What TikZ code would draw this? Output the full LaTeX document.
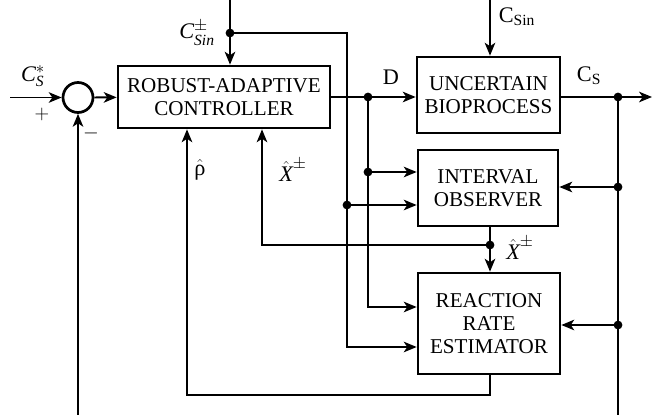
\documentclass[tikz,border=0pt]{standalone}
\usepackage{amsmath}
\usepackage{fontspec}
\setmainfont{Liberation Serif}
\usetikzlibrary{arrows.meta, positioning, calc}
\newcommand{\itx}[1]{\text{\itshape #1}}

\begin{document}
\begin{tikzpicture}[
  x=0.3mm, y=-0.3mm,
  >={Stealth[length=11pt, width=9pt, inset=3pt]},
  box/.style={draw, line width=2.3pt, minimum width=#1, align=center,
    font=\fontsize{18}{19.5}\selectfont, inner sep=2pt},
  arr/.style={->, line width=1.6pt},
  wire/.style={line width=1.6pt},
  lbl/.style={font=\fontsize{19}{20}\selectfont, inner sep=1pt},
  dot/.style={circle, fill, inner sep=0pt, minimum size=7.5pt},
]

% Frame
\useasboundingbox (0,0) rectangle (669,415);

% === Blocks ===
\node[box=63.6mm, minimum height=18.6mm] (ctrl) at (224,97) {ROBUST-ADAPTIVE\\CONTROLLER};
\node[box=42.9mm, minimum height=22.8mm] (bio) at (488.5,95) {UNCERTAIN\\BIOPROCESS};
\node[box=42mm, minimum height=22.8mm] (obs) at (488,188) {INTERVAL\\OBSERVER};
\node[box=42.6mm, minimum height=30.3mm] (est) at (489,323.5) {REACTION\\RATE\\ESTIMATOR};
\node[draw, circle, line width=2.3pt, minimum size=9mm, inner sep=0pt] (sum) at (78,97.5) {};

% === Junctions and free ends ===
\coordinate (in) at (10,97.5);
\coordinate (csintop) at (230,0);
\coordinate (jsin) at (230,33);
\coordinate (jso) at (347,205);
\coordinate (jsb) at (347,347);
\coordinate (jd) at (368,97);
\coordinate (jdo) at (368,172);
\coordinate (jdb) at (368,307);
\coordinate (csin) at (490,0);
\coordinate (jcs) at (618,97);
\coordinate (out) at (652,97);
\coordinate (jco) at (618,187);
\coordinate (jcb) at (618,325);
\coordinate (cbot) at (618,415);
\coordinate (jx) at (490,245);
\coordinate (rhob) at (187,395);
\coordinate (fbot) at (78,415);

% === Forward path ===
\draw[arr] (in) -- (sum);
\draw[arr] (sum) -- (ctrl);
\draw[arr] (ctrl.east |- jd) -- (bio.west |- jd);
\draw[arr] (csintop) -- (csintop |- ctrl.north);
\draw[arr] (csin) -- (csin |- bio.north);
\draw[arr] (bio.east |- jcs) -- (out);

% === Branches to observer and estimator ===
\draw[wire] (jsin) -| (jso);
\draw[arr] (jso) -- (jso -| obs.west);
\draw[arr] (jso) -- (jsb) -- (jsb -| est.west);
\draw[arr] (jd) |- (jdb -| est.west);
\draw[arr] (jdo) -- (jdo -| obs.west);
\draw[wire] (jcs) -- (cbot);
\draw[arr] (jco) -- (jco -| obs.east);
\draw[arr] (jcb) -- (jcb -| est.east);
\draw[arr] (obs.south -| jx) -- (jx |- est.north);

% === Feedback to controller ===
\draw[arr] (jx) -| ($(ctrl.south)+(38,0)$);
\draw[arr] (est.south -| jx) |- (rhob) -- (rhob |- ctrl.south);
\draw[arr] (fbot) -- (sum.south);

% Dots
\foreach \p in {jsin,jso,jd,jdo,jcs,jco,jcb,jx}
  \node[dot] at (\p) {};

% Labels
\node[lbl] at (33,76) {$\itx{C}^{*}_{\itx{S}}$};
\node[lbl] at (42,114) {$+$};
\node[lbl] at (91,133) {$-$};
\node[lbl] at (197,33) {$\itx{C}^{\pm}_{\itx{Sin}}$};
\node[lbl] at (391,77) {D};
\node[lbl] at (517,17) {C$_{\text{Sin}}$};
\node[lbl] at (589,76) {C$_{\text{S}}$};
\node[lbl] at (200,170) {$\hat{\text{ρ}}$};
\node[lbl] at (293,170) {$\hat{\itx{X}}^{\pm}$};
\node[lbl] at (520,248) {$\hat{\itx{X}}^{\pm}$};

\end{tikzpicture}
\end{document}
